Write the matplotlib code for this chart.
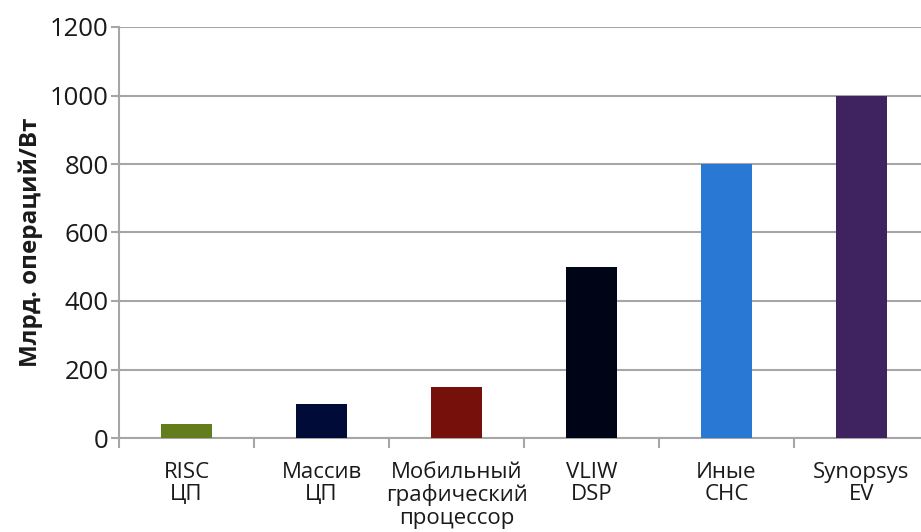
import matplotlib
matplotlib.use("Agg")
import matplotlib.pyplot as plt

plt.rcParams['font.family'] = ['Open Sans', 'DejaVu Sans']

categories = ["RISC\nЦП", "Массив\nЦП", "Мобильный\nграфический\nпроцессор",
              "VLIW\nDSP", "Иные\nСНС", "Synopsys\nEV"]
values = [40, 100, 150, 500, 800, 1000]
colors = ['#647D1C', '#000B38', '#75100A', '#000417', '#2878D4', '#3E2360']
y_ticks = [0, 200, 400, 600, 800, 1000, 1200]

grid_col = '#A6A6A6'
text_col = '#1A1A1A'

fig = plt.figure(figsize=(9.21, 5.32), dpi=100)
ax = fig.add_axes([119 / 921, (532 - 438) / 532, 810 / 921, 411 / 532])

x = list(range(len(categories)))
ax.bar(x, values, width=0.38, color=colors, zorder=3)

ax.set_xlim(-0.5, len(categories) - 0.5)
ax.set_ylim(0, 1200)
ax.set_yticks(y_ticks)
ax.set_yticklabels([str(v) for v in y_ticks], fontsize=18.5, color=text_col)
ax.set_xticks([i + 0.5 for i in range(-1, len(categories))], minor=False)
ax.set_xticklabels([])
ax.set_xticks(x, minor=True)
ax.set_xticklabels(categories, minor=True, fontsize=16, color=text_col,
                   linespacing=1.1)
ax.tick_params(axis='x', which='minor', length=0, pad=17)
ax.tick_params(axis='x', which='major', length=7, color=grid_col, width=1.5)
ax.tick_params(axis='y', length=6, color=grid_col, width=1.5, pad=1.5)

ax.grid(axis='y', color=grid_col, linewidth=1.5, zorder=0)
for s in ['top', 'right']:
    ax.spines[s].set_visible(False)
for s in ['left', 'bottom']:
    ax.spines[s].set_color(grid_col)
    ax.spines[s].set_linewidth(1.5)

ax.set_ylabel("Млрд. операций/Вт", fontsize=17.5, fontweight='bold',
              color=text_col)
ax.yaxis.set_label_coords(-0.094, 0.476)

fig.savefig("out.png", dpi=100)
